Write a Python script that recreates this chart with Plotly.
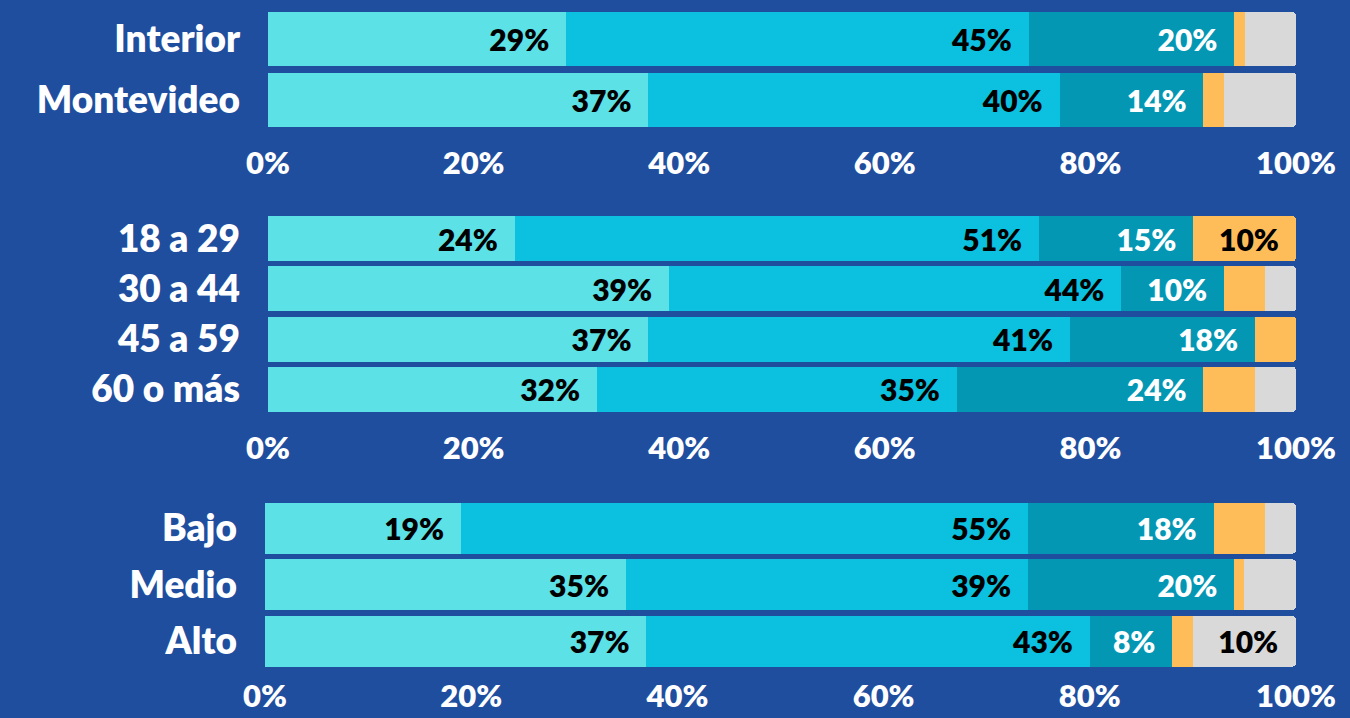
import plotly.graph_objects as go

# ---- data ----
panel1_cats = ["Interior", "Montevideo"]
panel2_cats = ["18 a 29", "30 a 44", "45 a 59", "60 o más"]
panel3_cats = ["Bajo", "Medio", "Alto"]

seg1 = {"p1": [29, 37], "p2": [24, 39, 37, 32], "p3": [19, 35, 37]}
seg2 = {"p1": [45, 40], "p2": [51, 44, 41, 35], "p3": [55, 39, 43]}
seg3 = {"p1": [20, 14], "p2": [15, 10, 18, 24], "p3": [18, 20, 8]}
seg4 = {"p1": [1, 2], "p2": [10, 4, 4, 5], "p3": [5, 1, 2]}
seg5 = {"p1": [5, 7], "p2": [0, 3, 0, 4], "p3": [3, 5, 10]}

# which small segments get a label
seg4_show = {"p1": [False, False], "p2": [True, False, False, False], "p3": [False, False, False]}
seg5_show = {"p1": [False, False], "p2": [False, False, False, False], "p3": [False, False, True]}

tick_vals = [0, 20, 40, 60, 80, 100]
tick_text = ["0%", "20%", "40%", "60%", "80%", "100%"]

colors = ["#5ce1e6", "#0cc0df", "#0397b4", "#ffbd59", "#d9d9d9"]
text_colors = ["#000000", "#000000", "#ffffff", "#000000", "#000000"]

BG = "#1f4e9f"
FONT = "Lato"

panels = [("p1", panel1_cats, "x", "y"), ("p2", panel2_cats, "x2", "y2"), ("p3", panel3_cats, "x3", "y3")]

fig = go.Figure()
for key, cats, xa, ya in panels:
    segs = [seg1[key], seg2[key], seg3[key], seg4[key], seg5[key]]
    for i, vals in enumerate(segs):
        if i < 3:
            txt = [f"{v}%\u00a0\u00a0" for v in vals]
        elif i == 3:
            txt = [f"{v}%\u00a0\u00a0" if s else "" for v, s in zip(vals, seg4_show[key])]
        else:
            txt = [f"{v}%\u00a0\u00a0" if s else "" for v, s in zip(vals, seg5_show[key])]
        fig.add_trace(go.Bar(
            y=cats, x=vals, orientation="h",
            marker=dict(color=colors[i], line=dict(width=0)),
            text=txt, textposition="inside", insidetextanchor="end",
            textfont=dict(color=text_colors[i], size=30, family=FONT, weight=800),
            textangle=0, cliponaxis=False,
            xaxis=xa, yaxis=ya, showlegend=False, hoverinfo="skip",
        ))

H = 718.0
W = 1350.0
def ydom(top_px, bot_px):
    return [1 - bot_px / H, 1 - top_px / H]

def xaxis_style(standoff):
    return dict(range=[0, 100], tickvals=tick_vals, ticktext=tick_text, showgrid=False,
                zeroline=False, showline=False, ticks="", fixedrange=True, automargin=False,
                tickfont=dict(color="white", size=31, family=FONT, weight=800),
                ticklabelstandoff=standoff)

yaxis_common = dict(showgrid=False, zeroline=False, showline=False, ticks="", autorange="reversed",
                    automargin=False,
                    tickfont=dict(color="white", size=37, family=FONT, weight=800),
                    ticklabelstandoff=27)

fig.update_layout(
    width=1350, height=718, autosize=False,
    paper_bgcolor=BG, plot_bgcolor=BG,
    margin=dict(l=0, r=0, t=0, b=0, pad=0),
    barmode="stack", bargap=0.1, barcornerradius=4,
    uniformtext=dict(minsize=30, mode="show"),
    xaxis=dict(domain=[268 / W, 1296 / W], anchor="y", **xaxis_style(12)),
    xaxis2=dict(domain=[268 / W, 1296 / W], anchor="y2", **xaxis_style(12)),
    xaxis3=dict(domain=[265 / W, 1296 / W], anchor="y3", **xaxis_style(5)),
    yaxis=dict(domain=ydom(9, 130), anchor="x", categoryorder="array", categoryarray=panel1_cats, **yaxis_common),
    yaxis2=dict(domain=ydom(213.5, 414.5), anchor="x2", categoryorder="array", categoryarray=panel2_cats, **yaxis_common),
    yaxis3=dict(domain=ydom(500, 669.5), anchor="x3", categoryorder="array", categoryarray=panel3_cats, **yaxis_common),
)

post = ("document.body.style.margin='0';document.body.style.padding='0';"
        "document.body.style.overflow='hidden';document.documentElement.style.overflow='hidden';"
        "document.body.style.background='" + BG + "';")

fig.write_html("out.html", config={"responsive": False, "displayModeBar": False}, post_script=post)
